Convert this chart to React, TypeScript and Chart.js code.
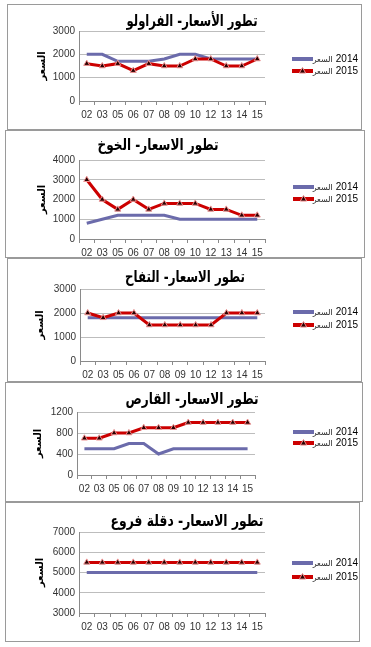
import React, { useEffect, useRef } from "react";
import { Chart, registerables } from "chart.js";

Chart.register(...registerables);

// ---------- DATA ----------
const categories = ["02", "03", "05", "06", "07", "08", "09", "10", "12", "13", "14", "15"];
const seriesYears = ["2014", "2015"];
const seriesWord = "السعر";
const axisTitle = "السعر";

const strawberryTitle = "تطور الأسعار- الفراولو";
const strawberry2014 = [2000, 2000, 1700, 1700, 1700, 1800, 2000, 2000, 1800, 1800, 1800, 1800];
const strawberry2015 = [1600, 1500, 1600, 1300, 1600, 1500, 1500, 1800, 1800, 1500, 1500, 1800];
const strawberryTicks = [0, 1000, 2000, 3000];

const peachTitle = "تطور الاسعار- الخوخ";
const peach2014 = [800, 1000, 1200, 1200, 1200, 1200, 1000, 1000, 1000, 1000, 1000, 1000];
const peach2015 = [3000, 2000, 1500, 2000, 1500, 1800, 1800, 1800, 1500, 1500, 1200, 1200];
const peachTicks = [0, 1000, 2000, 3000, 4000];

const appleTitle = "تطور الاسعار- التفاح";
const apple2014 = [1800, 1800, 1800, 1800, 1800, 1800, 1800, 1800, 1800, 1800, 1800, 1800];
const apple2015 = [2000, 1800, 2000, 2000, 1500, 1500, 1500, 1500, 1500, 2000, 2000, 2000];
const appleTicks = [0, 1000, 2000, 3000];

const bitterTitle = "تطور الاسعار- القارص";
const bitter2014 = [500, 500, 500, 600, 600, 400, 500, 500, 500, 500, 500, 500];
const bitter2015 = [700, 700, 800, 800, 900, 900, 900, 1000, 1000, 1000, 1000, 1000];
const bitterTicks = [0, 400, 800, 1200];

const datesTitle = "تطور الاسعار- دقلة فروع";
const dates2014 = [5000, 5000, 5000, 5000, 5000, 5000, 5000, 5000, 5000, 5000, 5000, 5000];
const dates2015 = [5500, 5500, 5500, 5500, 5500, 5500, 5500, 5500, 5500, 5500, 5500, 5500];
const datesTicks = [3000, 4000, 5000, 6000, 7000];

const panels = [
  { title: strawberryTitle, s2014: strawberry2014, s2015: strawberry2015, ticks: strawberryTicks },
  { title: peachTitle, s2014: peach2014, s2015: peach2015, ticks: peachTicks },
  { title: appleTitle, s2014: apple2014, s2015: apple2015, ticks: appleTicks },
  { title: bitterTitle, s2014: bitter2014, s2015: bitter2015, ticks: bitterTicks },
  { title: datesTitle, s2014: dates2014, s2015: dates2015, ticks: datesTicks },
];

// ---------- LAYOUT / STYLE ----------
const layouts = [
  { x: 7, y: 4, w: 355, h: 126, cl: 79, cr: 265, ct: 31, cb: 101, tx: 192, tw: 131, ty: 22, yt: 42, legX: 292, legY: [59, 71] },
  { x: 5, y: 130, w: 360, h: 128, cl: 79, cr: 265, ct: 160, cb: 239, tx: 158, tw: 121, ty: 146, yt: 42, legX: 293, legY: [187, 199] },
  { x: 7, y: 258, w: 355, h: 124, cl: 80, cr: 265, ct: 289, cb: 361, tx: 185, tw: 120, ty: 278, yt: 40, legX: 293, legY: [312, 325] },
  { x: 5, y: 382, w: 358, h: 120, cl: 77, cr: 255, ct: 412, cb: 475, tx: 192, tw: 133, ty: 400, yt: 38, legX: 293, legY: [432, 443] },
  { x: 5, y: 502, w: 355, h: 140, cl: 79, cr: 265, ct: 532, cb: 613, tx: 187, tw: 153, ty: 522, yt: 40, legX: 292, legY: [563, 577] },
];

const C2014 = "#6b6bab";
const C2015 = "#cc0000";
const MARKER_FILL = "#2a0000";
const MARKER_EDGE = "#ee9090";
const GRID = "#bdbdbd";
const AXIS = "#8a8a8a";
const TICK_FONT = '"Liberation Sans", Arial, "DejaVu Sans", sans-serif';
const TITLE_FONT = '"DejaVu Sans", sans-serif';

function drawTriangle(ctx: CanvasRenderingContext2D, x: number, y: number, r: number) {
  ctx.beginPath();
  ctx.moveTo(x, y - r);
  ctx.lineTo(x + r * 0.9, y + r * 0.6);
  ctx.lineTo(x - r * 0.9, y + r * 0.6);
  ctx.closePath();
  ctx.fillStyle = MARKER_FILL;
  ctx.fill();
  ctx.strokeStyle = MARKER_EDGE;
  ctx.lineWidth = 1;
  ctx.stroke();
}

const decorPlugin = {
  id: "panelDecor",
  afterDraw(chart: any, _args: any, opts: any) {
    const ctx: CanvasRenderingContext2D = chart.ctx;
    ctx.save();
    // title (fitted to the reference width)
    ctx.fillStyle = "#000";
    ctx.font = `bold ${opts.titleSize}px ${TITLE_FONT}`;
    ctx.textAlign = "center";
    ctx.textBaseline = "middle";
    const mw = ctx.measureText(opts.title).width;
    const sx = Math.min(1, opts.tw / mw);
    ctx.save();
    ctx.translate(opts.tx, opts.ty);
    ctx.scale(sx, 1);
    ctx.fillText(opts.title, 0, 0);
    ctx.restore();
    // legend
    [0, 1].forEach((i) => {
      const ds = chart.data.datasets[i];
      const y = opts.legY[i];
      ctx.strokeStyle = ds.borderColor;
      ctx.lineWidth = 4;
      ctx.beginPath();
      ctx.moveTo(opts.legX, y);
      ctx.lineTo(opts.legX + opts.legLen, y);
      ctx.stroke();
      if (ds.pointStyle === "triangle") {
        drawTriangle(ctx, opts.legX + opts.legLen / 2, y, 3.5);
      }
      ctx.fillStyle = "#000";
      ctx.textBaseline = "middle";
      ctx.textAlign = "right";
      const endX = opts.legEnd;
      ctx.font = `10px ${TICK_FONT}`;
      ctx.fillText(ds.yearText, endX, y);
      const yw = ctx.measureText(ds.yearText).width;
      ctx.font = `8px ${TITLE_FONT}`;
      ctx.fillStyle = "#222";
      ctx.fillText(ds.wordText, endX - yw - 3, y + 0.5);
    });
    ctx.restore();
  },
};

function PanelChart({ index }: { index: number }) {
  const ref = useRef<HTMLCanvasElement>(null);
  const spec = panels[index];
  const L = layouts[index];
  const ox = L.x + 1;
  const oy = L.y + 1;
  const cw = L.w - 2;
  const ch = L.h - 2;

  useEffect(() => {
    if (!ref.current) return;
    const yW = L.cl - ox;
    const xH = 20;
    const tickVals = spec.ticks;
    const chart = new Chart(ref.current, {
      type: "line",
      data: {
        labels: categories,
        datasets: [
          {
            label: seriesYears[0] + " " + seriesWord,
            yearText: seriesYears[0],
            wordText: seriesWord,
            data: spec.s2014,
            borderColor: C2014,
            backgroundColor: C2014,
            borderWidth: 3,
            pointRadius: 0,
            tension: 0,
            order: 1,
          },
          {
            label: seriesYears[1] + " " + seriesWord,
            yearText: seriesYears[1],
            wordText: seriesWord,
            data: spec.s2015,
            borderColor: C2015,
            backgroundColor: MARKER_FILL,
            borderWidth: 3,
            pointStyle: "triangle",
            pointRadius: 3.5,
            pointBackgroundColor: MARKER_FILL,
            pointBorderColor: MARKER_EDGE,
            pointBorderWidth: 1,
            tension: 0,
            order: 0,
          },
        ],
      },
      options: {
        responsive: false,
        animation: false,
        events: [],
        layout: {
          padding: {
            left: 0,
            top: L.ct - oy,
            right: cw - (L.cr - ox),
            bottom: ch - (L.cb - oy) - xH,
          },
        },
        plugins: {
          legend: { display: false },
          title: { display: false },
          tooltip: { enabled: false },
          panelDecor: {
            title: spec.title,
            titleSize: 16,
            tx: L.tx - ox,
            ty: L.ty - oy,
            tw: L.tw,
            legX: L.legX - ox,
            legLen: 21,
            legEnd: 358 - ox,
            legY: [L.legY[0] - oy, L.legY[1] - oy],
          },
        } as any,
        scales: {
          x: {
            type: "category",
            offset: true,
            grid: {
              display: true,
              drawOnChartArea: false,
              drawTicks: true,
              tickLength: 4,
              offset: true,
              color: AXIS,
            },
            border: { display: true, color: AXIS },
            ticks: {
              font: { size: 10, family: TICK_FONT },
              color: "#333",
              padding: 4,
              maxRotation: 0,
              autoSkip: false,
            },
            afterFit: (s: any) => {
              s.height = xH;
            },
          },
          y: {
            min: tickVals[0],
            max: tickVals[tickVals.length - 1],
            afterBuildTicks: (s: any) => {
              s.ticks = tickVals.map((v) => ({ value: v }));
            },
            afterFit: (s: any) => {
              s.width = yW;
            },
            grid: { color: GRID, drawTicks: false },
            border: { display: true, color: AXIS },
            ticks: {
              font: { size: 10, family: TICK_FONT },
              color: "#333",
              padding: 4,
              callback: (v: any) => String(v),
            },
            title: {
              display: true,
              text: axisTitle,
              font: { size: 10, weight: "bold", family: TITLE_FONT },
              color: "#000",
              padding: { top: L.yt - ox - 6, bottom: 0 },
            },
          },
        },
      },
      plugins: [decorPlugin],
    } as any);
    return () => chart.destroy();
  }, []);

  return (
    <div
      style={{
        position: "absolute",
        left: L.x,
        top: L.y,
        width: L.w,
        height: L.h,
        boxSizing: "border-box",
        border: "1px solid #9a9a9a",
        background: "#fff",
      }}
    >
      <canvas ref={ref} width={cw} height={ch} style={{ display: "block", width: cw, height: ch }} />
    </div>
  );
}

export default function App() {
  return (
    <div style={{ position: "absolute", left: 0, top: 0, width: 371, height: 647, background: "#fff" }}>
      {panels.map((_, i) => (
        <PanelChart key={i} index={i} />
      ))}
    </div>
  );
}
